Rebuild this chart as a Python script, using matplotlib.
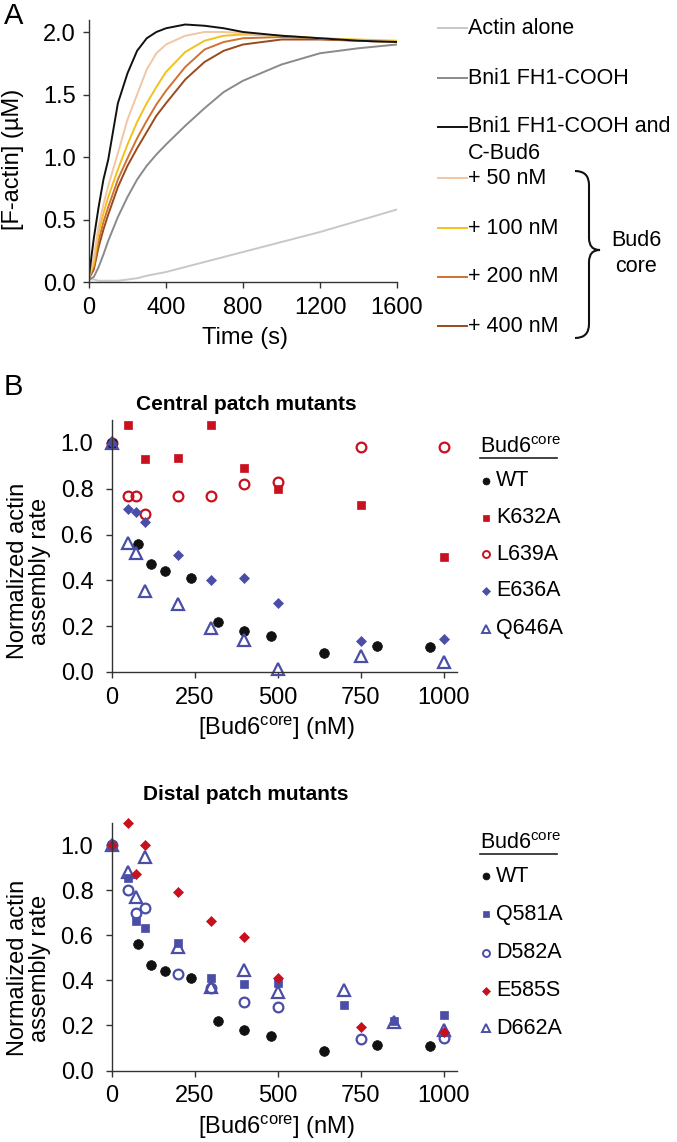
import matplotlib
matplotlib.use("Agg")
import matplotlib.pyplot as plt
from matplotlib.path import Path
from matplotlib.patches import PathPatch
from matplotlib.lines import Line2D

plt.rcParams['font.family'] = ['Liberation Sans', 'DejaVu Sans']
plt.rcParams['mathtext.fontset'] = 'custom'
plt.rcParams['mathtext.rm'] = 'Liberation Sans'
plt.rcParams['mathtext.it'] = 'Liberation Sans:italic'
plt.rcParams['mathtext.bf'] = 'Liberation Sans:bold'

# ---------------- Panel A data ----------------
time_s = [0, 25, 50, 75, 100, 150, 200, 250, 300, 350, 400, 500, 600, 700, 800, 1000, 1200, 1400, 1600]
actin_alone = [0.02, 0.02, 0.01, 0.01, 0.01, 0.01, 0.02, 0.03, 0.05, 0.065, 0.08, 0.12, 0.16, 0.20, 0.24, 0.32, 0.40, 0.49, 0.58]
bni1 = [0.02, 0.04, 0.12, 0.22, 0.33, 0.52, 0.68, 0.82, 0.93, 1.02, 1.10, 1.25, 1.39, 1.52, 1.61, 1.74, 1.83, 1.87, 1.90]
bni1_cbud6 = [0.05, 0.35, 0.60, 0.82, 0.98, 1.43, 1.67, 1.85, 1.95, 2.00, 2.03, 2.06, 2.05, 2.03, 2.00, 1.97, 1.95, 1.93, 1.92]
plus50 = [0.04, 0.20, 0.45, 0.62, 0.77, 1.03, 1.30, 1.50, 1.70, 1.83, 1.90, 1.97, 2.00, 2.00, 1.99, 1.97, 1.95, 1.93, 1.92]
plus100 = [0.04, 0.15, 0.40, 0.55, 0.68, 0.90, 1.10, 1.28, 1.43, 1.56, 1.68, 1.84, 1.93, 1.97, 1.98, 1.97, 1.95, 1.94, 1.93]
plus200 = [0.03, 0.12, 0.33, 0.48, 0.60, 0.82, 0.99, 1.15, 1.29, 1.42, 1.53, 1.72, 1.86, 1.92, 1.95, 1.96, 1.95, 1.93, 1.92]
plus400 = [0.03, 0.10, 0.28, 0.42, 0.54, 0.76, 0.93, 1.07, 1.20, 1.33, 1.43, 1.62, 1.76, 1.85, 1.90, 1.94, 1.94, 1.93, 1.92]
a_labels = ["Actin alone", "Bni1 FH1-COOH", "Bni1 FH1-COOH and", "+ 50 nM", "+ 100 nM", "+ 200 nM", "+ 400 nM"]
a_colors = ["#c8c8c8", "#8a8a8a", "#111111", "#f2c6a4", "#f2c21c", "#cf7232", "#9a4a1c"]

# ---------------- Panel B data (central patch) ----------------
wt_x = [0, 80, 120, 160, 240, 320, 400, 480, 640, 800, 960]
wt_y = [1.0, 0.56, 0.47, 0.44, 0.41, 0.22, 0.18, 0.155, 0.085, 0.115, 0.11]
k632a_x = [0, 50, 100, 200, 300, 400, 500, 750, 1000]
k632a_y = [1.0, 1.08, 0.93, 0.935, 1.08, 0.89, 0.80, 0.73, 0.50]
l639a_x = [0, 50, 75, 100, 200, 300, 400, 500, 750, 1000]
l639a_y = [1.0, 0.77, 0.77, 0.69, 0.77, 0.77, 0.82, 0.83, 0.98, 0.98]
e636a_x = [0, 50, 75, 100, 200, 300, 400, 500, 750, 1000]
e636a_y = [1.0, 0.71, 0.70, 0.655, 0.51, 0.40, 0.41, 0.30, 0.135, 0.145]
q646a_x = [0, 50, 75, 100, 200, 300, 400, 500, 750, 1000]
q646a_y = [1.0, 0.565, 0.52, 0.355, 0.295, 0.19, 0.14, 0.015, 0.07, 0.045]

# ---------------- Panel C data (distal patch) ----------------
q581a_x = [0, 50, 75, 100, 200, 300, 400, 500, 700, 850, 1000]
q581a_y = [1.0, 0.855, 0.665, 0.63, 0.565, 0.41, 0.385, 0.39, 0.29, 0.22, 0.245]
d582a_x = [0, 50, 75, 100, 200, 300, 400, 500, 750, 1000]
d582a_y = [1.0, 0.80, 0.70, 0.72, 0.43, 0.365, 0.305, 0.28, 0.14, 0.145]
e585s_x = [0, 50, 75, 100, 200, 300, 400, 500, 750, 1000]
e585s_y = [1.0, 1.10, 0.87, 1.0, 0.79, 0.665, 0.59, 0.41, 0.195, 0.17]
d662a_x = [0, 50, 75, 100, 200, 300, 400, 500, 700, 850, 1000]
d662a_y = [1.0, 0.88, 0.77, 0.945, 0.55, 0.37, 0.445, 0.35, 0.355, 0.215, 0.18]

RED = "#c8101e"
BLUE = "#4a4ea6"
BLACK = "#111111"

W, H = 677, 1142
fig = plt.figure(figsize=(W / 100, H / 100), dpi=100)

def px_axes(left, top, right, bottom):
    return fig.add_axes([left / W, 1 - bottom / H, (right - left) / W, (bottom - top) / H])

FS = 15.5
TICK_FS = 17
LAB_FS = 17

def style(ax, ypad):
    for s in ["top", "right"]:
        ax.spines[s].set_visible(False)
    for s in ["left", "bottom"]:
        ax.spines[s].set_color("#333333")
        ax.spines[s].set_linewidth(1.0)
    ax.tick_params(direction="out", length=4, width=1, color="#333333",
                   labelsize=TICK_FS)
    ax.tick_params(axis="x", pad=6.5)
    ax.tick_params(axis="y", pad=ypad)

# ---------- Panel A ----------
axA = px_axes(89, 19.5, 397, 282)
series_a = [actin_alone, bni1, bni1_cbud6, plus50, plus100, plus200, plus400]
draw_order = [0, 1, 6, 5, 4, 3, 2]
for i in draw_order:
    axA.plot(time_s, series_a[i], color=a_colors[i], lw=1.4)
axA.set_xlim(0, 1600)
axA.set_ylim(0, 2.1)
axA.set_xticks([0, 400, 800, 1200, 1600])
axA.set_yticks([0, 0.5, 1.0, 1.5, 2.0])
axA.set_yticklabels(["0.0", "0.5", "1.0", "1.5", "2.0"])
style(axA, 5.5)

# ---------- Panel B & C ----------
def scatter_panel(ax, sets):
    for xs, ys, m, face, edge, ms in sets:
        ax.plot(xs, ys, linestyle="none", marker=m, markersize=ms,
                markerfacecolor=face, markeredgecolor=edge,
                markeredgewidth=1.6 if face == "none" else 0.5, clip_on=False)
    ax.set_xlim(0, 1040)
    ax.set_ylim(0, 1.1)
    ax.set_xticks([0, 250, 500, 750, 1000])
    ax.set_yticks([0, 0.2, 0.4, 0.6, 0.8, 1.0])
    ax.set_yticklabels(["0.0", "0.2", "0.4", "0.6", "0.8", "1.0"])
    style(ax, 9)

axB = px_axes(111.5, 420, 456.8, 672)
setsB = [
    (k632a_x, k632a_y, "s", RED, RED, 6),
    (l639a_x, l639a_y, "o", "none", RED, 7),
    (wt_x, wt_y, "o", BLACK, BLACK, 7),
    (e636a_x, e636a_y, "D", BLUE, BLUE, 5.5),
    (q646a_x, q646a_y, "^", "none", BLUE, 8),
]
scatter_panel(axB, setsB)

axC = px_axes(111.5, 822.5, 456.8, 1070.5)
setsC = [
    (wt_x, wt_y, "o", BLACK, BLACK, 7),
    (d582a_x, d582a_y, "o", "none", BLUE, 7),
    (q581a_x, q581a_y, "s", BLUE, BLUE, 6),
    (d662a_x, d662a_y, "^", "none", BLUE, 8),
    (e585s_x, e585s_y, "D", RED, RED, 5.5),
]
scatter_panel(axC, setsC)

# ---------- overlay for text/legends ----------
ov = fig.add_axes([0, 0, 1, 1], zorder=5)
ov.set_xlim(0, W)
ov.set_ylim(H, 0)
ov.axis("off")
ov.patch.set_alpha(0)

ov.text(4, 16, "A", fontsize=21, ha="left", va="center")
ov.text(4, 387, "B", fontsize=21, ha="left", va="center")

ov.text(13, 159, "[F-actin] (\u00b5M)", rotation=90, fontsize=LAB_FS, ha="center", va="center")
ov.text(245, 338, "Time (s)", fontsize=LAB_FS, ha="center", va="center")

# legend A
rows_a = [28.3, 78.3, 126.7, 178.3, 228.3, 276.7, 326]
for lbl, col, y in zip(a_labels, a_colors, rows_a):
    ov.add_line(Line2D([438, 467], [y, y], color=col, lw=1.4))
    ov.text(468, y, lbl, fontsize=FS, ha="left", va="center")
ov.text(468, 153.3, "C-Bud6", fontsize=FS, ha="left", va="center")

# brace
verts = [(575, 171), (589, 171), (589, 185), (589, 238), (589, 250), (600, 250),
         (589, 250), (589, 262), (589, 324), (589, 338), (575, 338)]
codes = [Path.MOVETO, Path.CURVE3, Path.CURVE3, Path.LINETO, Path.CURVE3, Path.CURVE3,
         Path.CURVE3, Path.CURVE3, Path.LINETO, Path.CURVE3, Path.CURVE3]
ov.add_patch(PathPatch(Path(verts, codes), fill=False, lw=1.5, edgecolor="#111111"))
ov.text(636, 241, "Bud6", fontsize=FS, ha="center", va="center")
ov.text(636, 266, "core", fontsize=FS, ha="center", va="center")

# titles B, C
ov.text(246, 405, "Central patch mutants", fontsize=15, fontweight="bold", ha="center", va="center")
ov.text(246, 795, "Distal patch mutants", fontsize=15, fontweight="bold", ha="center", va="center")

ylab = "Normalized actin\nassembly rate"
ov.text(29, 571, ylab, rotation=90, fontsize=LAB_FS, ha="center", va="center", linespacing=1.02, multialignment="center")
ov.text(29, 968, ylab, rotation=90, fontsize=LAB_FS, ha="center", va="center", linespacing=1.02, multialignment="center")
xlab = r"[Bud6$^{\mathrm{core}}$] (nM)"
ov.text(277, 728, xlab, fontsize=LAB_FS, ha="center", va="center")
ov.text(277, 1127, xlab, fontsize=LAB_FS, ha="center", va="center")

def legend_block(y0, rows, entries):
    ov.text(480, y0, r"Bud6$^{\mathrm{core}}$", fontsize=FS, ha="left", va="center")
    ov.add_line(Line2D([480, 557], [y0 + 10.5, y0 + 10.5], color="#222222", lw=1.2))
    for (lbl, m, face, edge, ms), y in zip(entries, rows):
        ov.add_line(Line2D([486], [y], linestyle="none", marker=m, markersize=ms,
                           markerfacecolor=face, markeredgecolor=edge,
                           markeredgewidth=1.4 if face == "none" else 0.5))
        ov.text(496, y, lbl, fontsize=FS, ha="left", va="center")

legend_block(447, [480.7, 517.7, 554, 590.7, 628.5], [
    ("WT", "o", BLACK, BLACK, 5),
    ("K632A", "s", RED, RED, 4.5),
    ("L639A", "o", "none", RED, 5),
    ("E636A", "D", BLUE, BLUE, 4.2),
    ("Q646A", "^", "none", BLUE, 5.5),
])
legend_block(843, [876, 914.3, 952.7, 990.7, 1028.3], [
    ("WT", "o", BLACK, BLACK, 5),
    ("Q581A", "s", BLUE, BLUE, 4.5),
    ("D582A", "o", "none", BLUE, 5),
    ("E585S", "D", RED, RED, 4.2),
    ("D662A", "^", "none", BLUE, 5.5),
])

fig.savefig("out.png", dpi=100)
